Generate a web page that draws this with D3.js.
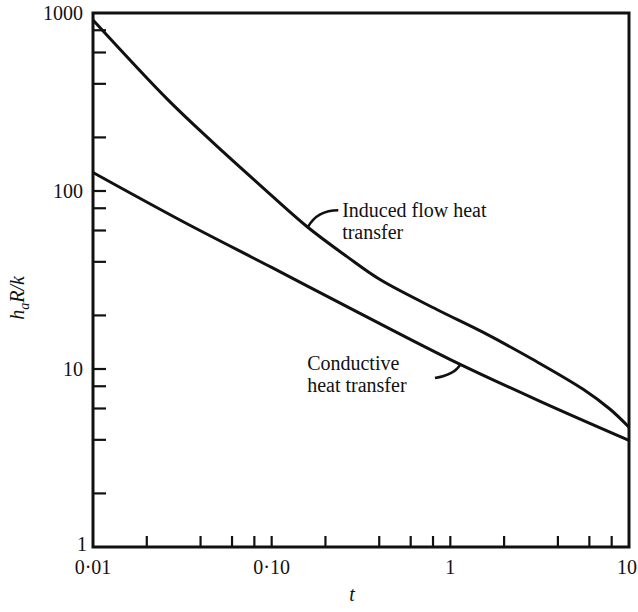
<!DOCTYPE html>
<html>
<head>
<meta charset="utf-8">
<script src="https://cdn.jsdelivr.net/npm/d3@7"></script>
<style>
  body { margin: 0; background: #fff; }
</style>
</head>
<body>
<div id="viz"></div>
<script>
const tInduced = [0.01, 0.0263, 0.047, 0.086, 0.158, 0.264, 0.404, 0.84, 1.52, 2.9, 5.54, 7.84, 10];
const vInduced = [914, 325, 187, 108, 63, 42.8, 31.8, 21.6, 16.1, 11.3, 7.69, 5.94, 4.71];

const tConductive = [0.01, 0.0316, 0.1, 0.316, 1, 3.16, 10];
const vConductive = [127, 67.6, 37.2, 20.4, 11.3, 6.6, 3.97];

const xTickLabels = ["0·01", "0·10", "1", "10"];
const yTickLabels = ["1", "10", "100", "1000"];
const xDecades = [0.01, 0.1, 1, 10];
const yDecades = [1, 10, 100, 1000];

const W = 638, H = 612;
const mLeft = 93, mRight = 629, mTop = 13, mBottom = 547;
const FONT = '"Liberation Serif", "Times New Roman", Tinos, "DejaVu Serif", "Noto Serif", serif';

const svg = d3.select('#viz')
  .append('svg')
  .attr('width', W)
  .attr('height', H)
  .attr('font-family', FONT);

const x = d3.scaleLog().domain([0.01, 10]).range([mLeft, mRight]);
const y = d3.scaleLog().domain([1, 1000]).range([mBottom, mTop]);

// minor ticks at 2,4,6,8 of each decade, plus inner decades
function tickVals(decades) {
  const out = [];
  decades.forEach((d, i) => {
    if (i > 0 && i < decades.length - 1) out.push(d);
    if (i < decades.length - 1) [2, 4, 6, 8].forEach(m => out.push(d * m));
  });
  return out;
}

// ticks
svg.append('g')
  .selectAll('line')
  .data(tickVals(xDecades))
  .enter()
  .append('line')
  .attr('x1', d => x(d)).attr('x2', d => x(d))
  .attr('y1', mBottom).attr('y2', mBottom - 11)
  .attr('stroke', '#111').attr('stroke-width', 2.2);

svg.append('g')
  .selectAll('line')
  .data(tickVals(yDecades))
  .enter()
  .append('line')
  .attr('y1', d => y(d)).attr('y2', d => y(d))
  .attr('x1', mLeft).attr('x2', mLeft + 13)
  .attr('stroke', '#111').attr('stroke-width', 2.2);

// frame
svg.append('rect')
  .attr('x', mLeft).attr('y', mTop)
  .attr('width', mRight - mLeft).attr('height', mBottom - mTop)
  .attr('fill', 'none')
  .attr('stroke', '#111')
  .attr('stroke-width', 3);

// tick labels
svg.append('g')
  .selectAll('text')
  .data(xDecades)
  .enter()
  .append('text')
  .attr('x', (d, i) => i === xDecades.length - 1 ? W - 1 : x(d))
  .attr('y', mBottom + 27)
  .attr('text-anchor', (d, i) => i === xDecades.length - 1 ? 'end' : 'middle')
  .attr('font-size', 20)
  .attr('fill', '#111')
  .text((d, i) => xTickLabels[i]);

svg.append('g')
  .selectAll('text')
  .data(yDecades)
  .enter()
  .append('text')
  .attr('x', d => d === 1 ? mLeft - 6 : mLeft - 10)
  .attr('y', d => y(d) + (d === 1 ? 4 : 7))
  .attr('text-anchor', 'end')
  .attr('font-size', 20)
  .attr('fill', '#111')
  .text((d, i) => yTickLabels[i]);

// axis titles
svg.append('text')
  .attr('x', 352).attr('y', 601)
  .attr('text-anchor', 'middle')
  .attr('font-size', 20)
  .attr('font-style', 'italic')
  .attr('fill', '#111')
  .text('t');

const yt = svg.append('text')
  .attr('transform', `translate(24,${(mTop + mBottom) / 2 + 18}) rotate(-90)`)
  .attr('text-anchor', 'middle')
  .attr('font-size', 20)
  .attr('font-style', 'italic')
  .attr('fill', '#111');
yt.append('tspan').text('h');
yt.append('tspan').attr('font-size', 14).attr('dy', 5).text('a');
yt.append('tspan').attr('dy', -5).text('R/k');

// curves
const line = d3.line()
  .x(d => x(d[0]))
  .y(d => y(d[1]))
  .curve(d3.curveCatmullRom);

const series = [d3.zip(tInduced, vInduced), d3.zip(tConductive, vConductive)];

svg.append('g')
  .selectAll('path')
  .data(series)
  .enter()
  .append('path')
  .attr('d', line)
  .attr('fill', 'none')
  .attr('stroke', '#111')
  .attr('stroke-width', 3);

// labels with leader lines
const notes = [
  { lines: ['Induced flow heat', 'transfer'], t: 0.248, v: 71.4,
    from: [0.236, 78], ctrl: [0.18, 78], to: [0.16, 63] },
  { lines: ['Conductive', 'heat transfer'], t: 0.158, v: 9.86,
    from: [0.82, 8.9], ctrl: [1.05, 9.3], to: [1.13, 10.5] }
];

notes.forEach(n => {
  const tx = svg.append('text')
    .attr('x', x(n.t)).attr('y', y(n.v))
    .attr('font-size', 20)
    .attr('fill', '#111');
  n.lines.forEach((s, i) => {
    tx.append('tspan')
      .attr('x', x(n.t))
      .attr('dy', i === 0 ? 0 : 22)
      .text(s);
  });
  const p = d3.path();
  p.moveTo(x(n.from[0]), y(n.from[1]));
  p.quadraticCurveTo(x(n.ctrl[0]), y(n.ctrl[1]), x(n.to[0]), y(n.to[1]));
  svg.append('path')
    .attr('d', p.toString())
    .attr('fill', 'none')
    .attr('stroke', '#111')
    .attr('stroke-width', 2.5);
});
</script>
</body>
</html>
